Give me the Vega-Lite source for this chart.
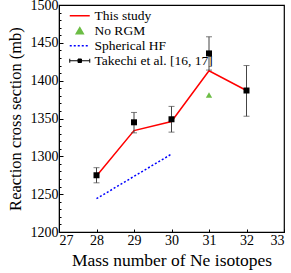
{
  "$schema": "https://vega.github.io/schema/vega-lite/v6.json",
  "width": 225,
  "height": 227,
  "autosize": {"type": "none"},
  "padding": {"left": 59, "top": 5, "right": 7, "bottom": 41},
  "config": {
    "font": "Liberation Serif",
    "view": {"stroke": "black", "strokeWidth": 1.2},
    "legend": {"labelFont": "Liberation Serif", "labelFontSize": 13.5, "labelColor": "black"},
    "axis": {
      "domainColor": "black",
      "tickColor": "black",
      "labelColor": "black",
      "titleColor": "black",
      "labelFont": "Liberation Serif",
      "titleFont": "Liberation Serif",
      "labelFontSize": 14,
      "titleFontSize": 17,
      "titleFontWeight": "normal",
      "grid": false
    }
  },
  "data": {
    "values": [
      {"series": "This study", "mass": 28, "value": 1274},
      {"series": "This study", "mass": 29, "value": 1334},
      {"series": "This study", "mass": 30, "value": 1346},
      {"series": "This study", "mass": 31, "value": 1413},
      {"series": "This study", "mass": 32, "value": 1387},
      {"series": "No RGM", "mass": 31, "value": 1381},
      {"series": "Spherical HF", "mass": 28, "value": 1244},
      {"series": "Spherical HF", "mass": 30, "value": 1303},
      {"series": "Takechi et al. [16, 17]", "mass": 28, "value": 1275, "lo": 1265, "hi": 1285},
      {"series": "Takechi et al. [16, 17]", "mass": 29, "value": 1345, "lo": 1331, "hi": 1358},
      {"series": "Takechi et al. [16, 17]", "mass": 30, "value": 1349, "lo": 1332, "hi": 1366},
      {"series": "Takechi et al. [16, 17]", "mass": 31, "value": 1436, "lo": 1414, "hi": 1458},
      {"series": "Takechi et al. [16, 17]", "mass": 32, "value": 1387, "lo": 1353, "hi": 1420}
    ]
  },
  "encoding": {
    "x": {
      "field": "mass", "type": "quantitative",
      "scale": {"domain": [27, 33], "nice": false, "zero": false},
      "axis": {
        "title": "Mass number of Ne isotopes",
        "values": [27, 28, 29, 30, 31, 32, 33],
        "format": "d",
        "tickSize": -3,
        "labelPadding": 4,
        "titlePadding": 4,
        "titleFontSize": 17.5
      }
    },
    "y": {
      "field": "value", "type": "quantitative",
      "scale": {"domain": [1200, 1500], "nice": false, "zero": false},
      "axis": {
        "title": "Reaction cross section (mb)",
        "values": [1200,1210,1220,1230,1240,1250,1260,1270,1280,1290,1300,1310,1320,1330,1340,1350,1360,1370,1380,1390,1400,1410,1420,1430,1440,1450,1460,1470,1480,1490,1500],
        "format": "d",
        "labelExpr": "datum.value % 50 === 0 ? datum.label : ''",
        "tickSize": {"condition": {"test": "datum.value % 50 === 0", "value": -4}, "value": -2},
        "labelPadding": 5,
        "titlePadding": 7,
        "titleFontSize": 16.5
      }
    },
    "color": {
      "field": "series", "type": "nominal",
      "scale": {
        "domain": ["This study", "No RGM", "Spherical HF", "Takechi et al. [16, 17]"],
        "range": ["#ff0000", "#6cbd45", "#0000ff", "#000000"]
      },
      "legend": {
        "title": null,
        "orient": "none",
        "legendX": 14,
        "legendY": 4,
        "symbolSize": 100,
        "rowPadding": 0,
        "labelOffset": 8,
        "labelFont": "Liberation Serif",
        "labelFontSize": 13.5,
        "labelColor": "black",
        "encode": {
          "labels": {"update": {"font": {"value": "Liberation Serif"}, "fontSize": {"value": 13.5}, "fill": {"value": "black"}}},
          "symbols": {
            "update": {
              "shape": {"signal": "datum.value === 'No RGM' ? 'M0,-0.6L0.7,0.6L-0.7,0.6Z' : datum.value === 'Takechi et al. [16, 17]' ? 'M-2,0H2M-0.35,-0.35H0.35V0.35H-0.35ZM-2,-0.4V0.4M2,-0.4V0.4' : 'M-2,0H2'"},
              "fill": {"signal": "datum.value === 'No RGM' ? '#6cbd45' : datum.value === 'Takechi et al. [16, 17]' ? '#000000' : 'transparent'"},
              "stroke": {"signal": "datum.value === 'No RGM' ? 'transparent' : datum.value === 'This study' ? '#ff0000' : datum.value === 'Spherical HF' ? '#0000ff' : '#000000'"},
              "strokeDash": {"signal": "datum.value === 'Spherical HF' ? [2, 2] : []"},
              "strokeWidth": {"signal": "datum.value === 'Takechi et al. [16, 17]' ? 1 : 1.5"},
              "opacity": {"value": 1},
              "fillOpacity": {"value": 1},
              "strokeOpacity": {"value": 1}
            }
          }
        }
      }
    }
  },
  "layer": [
    {
      "transform": [{"filter": "datum.series === 'Spherical HF'"}],
      "mark": {"type": "line", "strokeDash": [2, 2], "strokeWidth": 1.5}
    },
    {
      "transform": [{"filter": "datum.series === 'This study'"}],
      "mark": {"type": "line", "strokeWidth": 1.5}
    },
    {
      "transform": [{"filter": "datum.series === 'Takechi et al. [16, 17]'"}],
      "mark": {"type": "errorbar", "ticks": {"size": 6, "color": "#444444"}, "rule": {"color": "#444444"}},
      "encoding": {
        "y": {"field": "lo", "type": "quantitative"},
        "y2": {"field": "hi"},
        "color": {"value": "#444444"}
      }
    },
    {
      "transform": [{"filter": "datum.series === 'Takechi et al. [16, 17]'"}],
      "mark": {"type": "point", "shape": "square", "filled": true, "size": 36, "opacity": 1}
    },
    {
      "transform": [{"filter": "datum.series === 'No RGM'"}],
      "mark": {"type": "point", "shape": "triangle-up", "filled": true, "size": 40, "opacity": 1}
    }
  ]
}
